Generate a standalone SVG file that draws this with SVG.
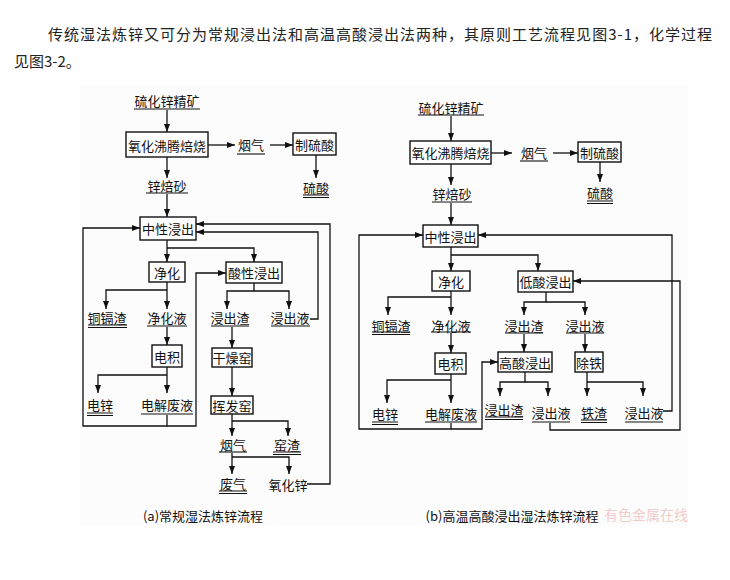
<svg xmlns="http://www.w3.org/2000/svg" width="730" height="580" viewBox="0 0 730 580">
<style>
.t{font-family:"Noto Sans CJK SC","Noto Sans",sans-serif;font-size:13px;fill:#111;text-anchor:middle;dominant-baseline:central}
.h{font-family:"Noto Sans CJK SC","Noto Sans",sans-serif;font-size:15px;fill:#222;dominant-baseline:central}
.b{fill:#fff;stroke:#111;stroke-width:1.4}
.u{stroke:#111;stroke-width:1.1;fill:none}
.c path{fill:none;stroke:#111;stroke-width:1.3}
.wm{font-family:"Noto Sans CJK SC",sans-serif;font-size:14px;fill:#f2cccc;text-anchor:start;dominant-baseline:central}
</style>
<defs>
<marker id="ah" viewBox="0 0 8 6" refX="8" refY="3" markerWidth="8" markerHeight="6" markerUnits="userSpaceOnUse" orient="auto"><path d="M0,0 L8,3 L0,6 z" fill="#111"/></marker>
</defs>
<rect x="0" y="0" width="730" height="580" fill="#fff"/>
<rect x="80" y="85" width="608" height="440" fill="#fcfcfc"/>
<g id="header">
<text class="h" x="48" y="33" textLength="664">传统湿法炼锌又可分为常规浸出法和高温高酸浸出法两种，其原则工艺流程见图3-1，化学过程</text>
<text class="h" x="14" y="60">见图3-2。</text>
</g>
<g class="c" id="connectors" marker-end="url(#ah)">
<!-- (a) -->
<path d="M167,110 V132"/>
<path d="M208,145 H235"/>
<path d="M270,145 H293"/>
<path d="M316,155 V178"/>
<path d="M167,157 V178"/>
<path d="M167,194 V217"/>
<path d="M307,484 H330 V224 H196"/>
<path d="M310,319 H318 V232 H196"/>
<path d="M167,415 V426 H83 V228 H140"/>
<path d="M167,426 H196 V273 H226"/>
<path d="M167,240 V262"/>
<path d="M167,248 H254 V262"/>
<path d="M167,282 V309"/>
<path d="M167,290 H106 V309"/>
<path d="M254,283 V291 H227 V309"/>
<path d="M254,291 H289 V309"/>
<path d="M167,327 V345"/>
<path d="M167,367 V393"/>
<path d="M167,375 H98 V393"/>
<path d="M232,327 V348"/>
<path d="M232,367 V396"/>
<path d="M232,414 V436"/>
<path d="M232,421 H288 V436"/>
<path d="M232,453 V474"/>
<path d="M232,457 H289 V474"/>
<!-- (b) -->
<path d="M451,116 V141"/>
<path d="M491,153 H512"/>
<path d="M553,153 H578"/>
<path d="M600,162 V182"/>
<path d="M451,164 V185"/>
<path d="M451,203 V225"/>
<path d="M451,247 V271"/>
<path d="M451,255 H538 V271"/>
<path d="M451,291 V315"/>
<path d="M451,297 H388 V315"/>
<path d="M546,292 V302 H524 V315"/>
<path d="M546,302 H585 V315"/>
<path d="M451,333 V353"/>
<path d="M524,334 V352"/>
<path d="M585,334 V352"/>
<path d="M451,374 V403"/>
<path d="M451,380 H387 V403"/>
<path d="M451,423 V429 H359 V235 H423"/>
<path d="M451,429 H482 V362 H498"/>
<path d="M525,372 V382 H500 V396"/>
<path d="M525,382 H548 V396"/>
<path d="M587,372 V396"/>
<path d="M587,382 H643 V396"/>
<path d="M663,411 H672 V235 H478"/>
<path d="M550,423 V430 H680 V281 H573"/>
</g>
<!-- (a) nodes -->
<g id="a_ore"><text class="t" x="167" y="100">硫化锌精矿</text><path class="u" d="M134,109 H200"/></g>
<g id="a_roast"><rect class="b" x="126" y="132" width="82" height="25"/><text class="t" x="167" y="145">氧化沸腾焙烧</text></g>
<g id="a_gas1"><text class="t" x="251" y="144">烟气</text><path class="u" d="M237,154 H265"/></g>
<g id="a_acidplant"><rect class="b" x="293" y="133" width="43" height="22"/><text class="t" x="314.5" y="144">制硫酸</text></g>
<g id="a_h2so4"><text class="t" x="316" y="187">硫酸</text><path class="u" d="M303,195 H329 M303,197.5 H329"/></g>
<g id="a_calcine"><text class="t" x="167" y="185">锌焙砂</text><path class="u" d="M146,193 H188"/></g>
<g id="a_neutral"><rect class="b" x="140" y="217" width="56" height="23"/><text class="t" x="168" y="228.5">中性浸出</text></g>
<g id="a_purify"><rect class="b" x="149" y="262" width="36" height="20"/><text class="t" x="167" y="272">净化</text></g>
<g id="a_acidleach"><rect class="b" x="226" y="262" width="56" height="21"/><text class="t" x="254" y="272.5">酸性浸出</text></g>
<g id="a_cucd"><text class="t" x="107" y="317">铜镉渣</text><path class="u" d="M88,325 H127 M88,327.5 H127"/></g>
<g id="a_purliq"><text class="t" x="167" y="317">净化液</text><path class="u" d="M147,326 H187"/></g>
<g id="a_res1"><text class="t" x="230" y="317">浸出渣</text><path class="u" d="M211,326 H249"/></g>
<g id="a_liq1"><text class="t" x="290" y="317">浸出液</text><path class="u" d="M271,326 H310"/></g>
<g id="a_ew"><rect class="b" x="152" y="345" width="30" height="22"/><text class="t" x="167" y="356">电积</text></g>
<g id="a_dry"><rect class="b" x="212" y="348" width="40" height="19"/><text class="t" x="232" y="357.5">干燥窑</text></g>
<g id="a_zn"><text class="t" x="100" y="404">电锌</text><path class="u" d="M87,413 H113 M87,415.5 H113"/></g>
<g id="a_spent"><text class="t" x="167" y="404">电解废液</text><path class="u" d="M141,414 H193"/></g>
<g id="a_volat"><rect class="b" x="211" y="396" width="42" height="18"/><text class="t" x="232" y="405">挥发窑</text></g>
<g id="a_gas2"><text class="t" x="233" y="444">烟气</text><path class="u" d="M219,452 H247"/></g>
<g id="a_slag"><text class="t" x="287" y="444">窑渣</text><path class="u" d="M273,452 H301 M273,454.5 H301"/></g>
<g id="a_waste"><text class="t" x="233" y="483">废气</text><path class="u" d="M219,491 H247 M219,493.5 H247"/></g>
<g id="a_zno"><text class="t" x="288" y="484">氧化锌</text></g>
<g id="a_caption"><text class="t" x="203" y="515">(a)常规湿法炼锌流程</text></g>
<!-- (b) nodes -->
<g id="b_ore"><text class="t" x="451" y="107">硫化锌精矿</text><path class="u" d="M418,115 H484"/></g>
<g id="b_roast"><rect class="b" x="410" y="141" width="81" height="23"/><text class="t" x="450.5" y="152.5">氧化沸腾焙烧</text></g>
<g id="b_gas"><text class="t" x="534" y="152">烟气</text><path class="u" d="M520,161 H548"/></g>
<g id="b_acidplant"><rect class="b" x="578" y="142" width="43" height="20"/><text class="t" x="599.5" y="152">制硫酸</text></g>
<g id="b_h2so4"><text class="t" x="600" y="192">硫酸</text><path class="u" d="M587,201 H613 M587,203.5 H613"/></g>
<g id="b_calcine"><text class="t" x="452" y="193">锌焙砂</text><path class="u" d="M432,202 H472"/></g>
<g id="b_neutral"><rect class="b" x="423" y="225" width="55" height="22"/><text class="t" x="450.5" y="236">中性浸出</text></g>
<g id="b_purify"><rect class="b" x="432" y="271" width="38" height="20"/><text class="t" x="451" y="281">净化</text></g>
<g id="b_lowacid"><rect class="b" x="518" y="271" width="55" height="21"/><text class="t" x="545.5" y="281.5">低酸浸出</text></g>
<g id="b_cucd"><text class="t" x="391" y="325">铜镉渣</text><path class="u" d="M372,332 H410 M372,334.5 H410"/></g>
<g id="b_purliq"><text class="t" x="451" y="325">净化液</text><path class="u" d="M431,332 H471"/></g>
<g id="b_res1"><text class="t" x="524" y="325">浸出渣</text><path class="u" d="M505,333 H543"/></g>
<g id="b_liq1"><text class="t" x="585" y="325">浸出液</text><path class="u" d="M566,333 H604"/></g>
<g id="b_ew"><rect class="b" x="435" y="353" width="31" height="21"/><text class="t" x="450.5" y="363.5">电积</text></g>
<g id="b_highacid"><rect class="b" x="498" y="352" width="54" height="20"/><text class="t" x="525" y="362">高酸浸出</text></g>
<g id="b_defe"><rect class="b" x="575" y="352" width="28" height="20"/><text class="t" x="589" y="362">除铁</text></g>
<g id="b_zn"><text class="t" x="385" y="413">电锌</text><path class="u" d="M372,422 H398 M372,424.5 H398"/></g>
<g id="b_spent"><text class="t" x="451" y="413">电解废液</text><path class="u" d="M425,422 H477"/></g>
<g id="b_res2"><text class="t" x="504" y="409">浸出渣</text><path class="u" d="M485,417 H523 M485,419.5 H523"/></g>
<g id="b_liq2"><text class="t" x="551" y="412">浸出液</text><path class="u" d="M532,422 H570"/></g>
<g id="b_fe"><text class="t" x="594" y="412">铁渣</text><path class="u" d="M581,420 H607 M581,422.5 H607"/></g>
<g id="b_liq3"><text class="t" x="644" y="412">浸出液</text><path class="u" d="M625,422 H663"/></g>
<g id="b_caption"><text class="t" x="512" y="515">(b)高温高酸浸出湿法炼锌流程</text></g>
<g id="watermark"><text class="wm" x="604" y="514">有色金属在线</text></g>
</svg>
